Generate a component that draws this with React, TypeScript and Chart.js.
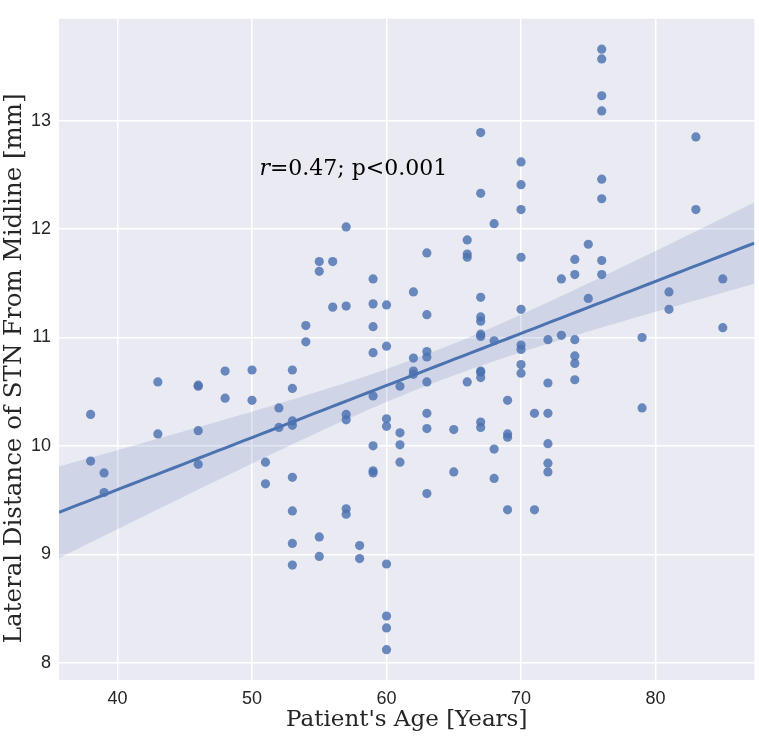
import React, { useEffect, useRef } from "react";
import { Chart, registerables } from "chart.js";

Chart.register(...registerables);

// Patient age groups (years) and the lateral STN distances (mm) measured at each age
const AGE_GROUPS = [38, 39, 43, 46, 48, 50, 51, 52, 53, 54, 55, 56, 57, 58, 59, 60, 61, 62, 63, 65, 66, 67, 68, 69, 70, 71, 72, 73, 74, 75, 76, 79, 81, 83, 85];
const STN_DISTANCES = [
  [10.29, 9.86],
  [9.75, 9.57],
  [10.59, 10.11],
  [10.56, 10.55, 10.14, 9.83],
  [10.69, 10.44],
  [10.7, 10.42],
  [9.85, 9.65],
  [10.35, 10.17],
  [10.7, 10.53, 10.23, 10.19, 9.71, 9.4, 9.1, 8.9],
  [11.11, 10.96],
  [11.7, 11.61, 9.16, 8.98],
  [11.7, 11.28],
  [12.02, 11.29, 10.29, 10.24, 9.42, 9.37],
  [9.08, 8.96],
  [11.54, 11.31, 11.1, 10.86, 10.46, 10.0, 9.77, 9.75],
  [11.3, 10.92, 10.25, 10.18, 8.91, 8.43, 8.32, 8.12],
  [10.55, 10.12, 10.01, 9.85],
  [11.42, 10.81, 10.69, 10.66],
  [11.78, 11.21, 10.87, 10.82, 10.59, 10.3, 10.16, 9.56],
  [10.15, 9.76],
  [11.9, 11.77, 11.74, 10.59],
  [12.89, 12.33, 11.37, 11.19, 11.15, 11.03, 11.01, 10.69, 10.68, 10.63, 10.22, 10.17],
  [12.05, 10.97, 9.97, 9.7],
  [10.42, 10.11, 10.08, 9.41],
  [12.62, 12.41, 12.18, 11.74, 11.26, 10.93, 10.89, 10.75, 10.67],
  [10.3, 9.41],
  [10.98, 10.58, 10.3, 10.02, 9.84, 9.76],
  [11.54, 11.02],
  [11.72, 11.58, 10.98, 10.83, 10.76, 10.61],
  [11.86, 11.36],
  [13.66, 13.57, 13.23, 13.09, 12.46, 12.28, 11.71, 11.58],
  [11.0, 10.35],
  [11.42, 11.26],
  [12.85, 12.18],
  [11.54, 11.09],
];

const X_TICKS = [40, 50, 60, 70, 80];
const Y_TICKS = [8, 9, 10, 11, 12, 13];
const X_RANGE = [35.65, 87.35];
const Y_RANGE = [7.84, 13.94];

const X_TITLE = "Patient's Age [Years]";
const Y_TITLE = "Lateral Distance of STN From Midline [mm]";
const ANNOTATION_ITALIC = "r";
const ANNOTATION_REST = "=0.47; p<0.001";
const ANNOTATION_AT = { x: 50.55, y: 12.5 };

const CI_T = 1.9; // approx. 95% band multiplier
const FIT_SAMPLES = 80;

const BLUE = "#4c72b0";
const POINT_FILL = "rgba(76,114,176,0.82)";
const BAND_FILL = "rgba(76,114,176,0.17)";
const PANEL_BG = "#eaeaf2";
const TEXT = "#262626";

function buildPoints() {
  const pts: { x: number; y: number }[] = [];
  AGE_GROUPS.forEach((age, i) => {
    STN_DISTANCES[i].forEach((v) => pts.push({ x: age, y: v }));
  });
  return pts;
}

function fitRegression(pts: { x: number; y: number }[]) {
  const n = pts.length;
  const mx = pts.reduce((s, p) => s + p.x, 0) / n;
  const my = pts.reduce((s, p) => s + p.y, 0) / n;
  let sxx = 0, sxy = 0;
  pts.forEach((p) => {
    sxx += (p.x - mx) * (p.x - mx);
    sxy += (p.x - mx) * (p.y - my);
  });
  const b = sxy / sxx;
  const a = my - b * mx;
  let sse = 0;
  pts.forEach((p) => {
    const r = p.y - (a + b * p.x);
    sse += r * r;
  });
  const s = Math.sqrt(sse / (n - 2));
  const line: { x: number; y: number }[] = [];
  const upper: { x: number; y: number }[] = [];
  const lower: { x: number; y: number }[] = [];
  for (let i = 0; i < FIT_SAMPLES; i++) {
    const x = X_RANGE[0] + ((X_RANGE[1] - X_RANGE[0]) * i) / (FIT_SAMPLES - 1);
    const yhat = a + b * x;
    const se = s * Math.sqrt(1 / n + ((x - mx) * (x - mx)) / sxx);
    line.push({ x, y: yhat });
    upper.push({ x, y: yhat + CI_T * se });
    lower.push({ x, y: yhat - CI_T * se });
  }
  return { line, upper, lower };
}

const panelPlugin = {
  id: "panelBg",
  beforeDraw(chart: any) {
    const { ctx, chartArea: a } = chart;
    ctx.save();
    ctx.fillStyle = PANEL_BG;
    ctx.fillRect(a.left, a.top, a.right - a.left, a.bottom - a.top);
    ctx.restore();
  },
};

const yTitlePlugin = {
  id: "yTitle",
  afterDraw(chart: any) {
    const { ctx, chartArea: a } = chart;
    ctx.save();
    ctx.translate(15, (a.top + a.bottom) / 2 + 19);
    ctx.rotate(-Math.PI / 2);
    ctx.fillStyle = TEXT;
    ctx.textAlign = "center";
    ctx.textBaseline = "middle";
    ctx.font = '24.5px "DejaVu Serif"';
    ctx.fillText(Y_TITLE, 0, 0);
    ctx.restore();
  },
};

const annotationPlugin = {
  id: "corrAnnotation",
  afterDatasetsDraw(chart: any) {
    const { ctx } = chart;
    const px = chart.scales.x.getPixelForValue(ANNOTATION_AT.x);
    const py = chart.scales.y.getPixelForValue(ANNOTATION_AT.y);
    ctx.save();
    ctx.fillStyle = "#000000";
    ctx.textBaseline = "alphabetic";
    ctx.textAlign = "left";
    ctx.font = 'italic 22px "DejaVu Serif"';
    ctx.fillText(ANNOTATION_ITALIC, px, py);
    const w = ctx.measureText(ANNOTATION_ITALIC).width;
    ctx.font = '22px "DejaVu Serif"';
    ctx.fillText(ANNOTATION_REST, px + w, py);
    ctx.restore();
  },
};

export default function App() {
  const ref = useRef<HTMLCanvasElement | null>(null);

  useEffect(() => {
    if (!ref.current) return;
    const pts = buildPoints();
    const fit = fitRegression(pts);
    const chart = new Chart(ref.current, {
      type: "scatter",
      data: {
        datasets: [
          {
            type: "line",
            label: "fit",
            data: fit.line,
            borderColor: BLUE,
            borderWidth: 3,
            pointRadius: 0,
            fill: false,
            tension: 0,
          } as any,
          {
            type: "line",
            label: "ci-upper",
            data: fit.upper,
            borderWidth: 0,
            borderColor: "rgba(0,0,0,0)",
            pointRadius: 0,
            backgroundColor: BAND_FILL,
            fill: "+1",
          } as any,
          {
            type: "line",
            label: "ci-lower",
            data: fit.lower,
            borderWidth: 0,
            borderColor: "rgba(0,0,0,0)",
            pointRadius: 0,
            fill: false,
          } as any,
          {
            label: "patients",
            data: pts,
            pointRadius: 4.6,
            pointHoverRadius: 4.6,
            pointBackgroundColor: POINT_FILL,
            pointBorderWidth: 0,
            borderWidth: 0,
          } as any,
        ],
      },
      options: {
        animation: false,
        responsive: false,
        layout: { padding: { top: 2, right: 2, left: 0, bottom: 0 } },
        plugins: { legend: { display: false }, tooltip: { enabled: false } },
        scales: {
          x: {
            type: "linear",
            min: X_RANGE[0],
            max: X_RANGE[1],
            afterBuildTicks: (s: any) => {
              s.ticks = X_TICKS.map((v) => ({ value: v }));
            },
            afterFit: (s: any) => {
              s.height = 56;
            },
            grid: { color: "#ffffff", lineWidth: 1.5, drawTicks: false },
            border: { display: false },
            ticks: {
              padding: 8,
              color: TEXT,
              font: { family: '"Liberation Sans", Arial', size: 18 },
            },
            title: {
              display: true,
              text: X_TITLE,
              color: TEXT,
              padding: { top: 0, bottom: 2 },
              font: { family: '"DejaVu Serif"', size: 23 },
            },
          },
          y: {
            type: "linear",
            min: Y_RANGE[0],
            max: Y_RANGE[1],
            afterBuildTicks: (s: any) => {
              s.ticks = Y_TICKS.map((v) => ({ value: v }));
            },
            afterFit: (s: any) => {
              s.width = 59;
            },
            grid: { color: "#ffffff", lineWidth: 1.5, drawTicks: false },
            border: { display: false },
            ticks: {
              padding: 8,
              color: TEXT,
              font: { family: '"Liberation Sans", Arial', size: 18 },
            },
            title: { display: false, text: Y_TITLE },
          },
        },
      },
      plugins: [panelPlugin, annotationPlugin, yTitlePlugin],
    });
    return () => chart.destroy();
  }, []);

  return (
    <div style={{ position: "fixed", left: 0, top: 0, width: 759, height: 736, background: "#ffffff" }}>
      <canvas ref={ref} width={759} height={736} style={{ display: "block" }} />
    </div>
  );
}
